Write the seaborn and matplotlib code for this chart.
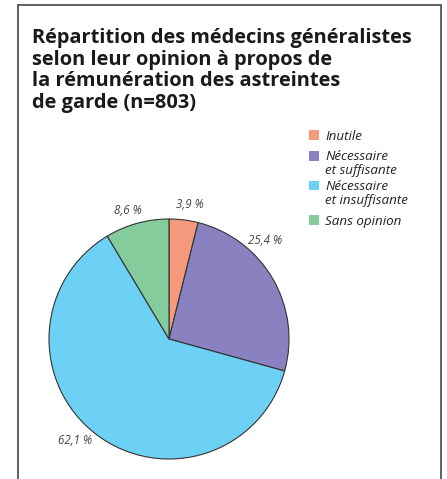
import matplotlib
matplotlib.use("Agg")
import matplotlib.pyplot as plt
import seaborn as sns
from matplotlib.patches import Rectangle
from matplotlib.lines import Line2D

sns.set_style("white")
plt.rcParams['font.family'] = ['Open Sans', 'DejaVu Sans']

categories = ["Inutile", "Nécessaire\net suffisante", "Nécessaire\net insuffisante", "Sans opinion"]
values = [3.9, 25.4, 62.1, 8.6]
value_labels = ["3,9 %", "25,4 %", "62,1 %", "8,6 %"]
colors = ["#F59A7C", "#8A81C0", "#6DD0F5", "#84CC9B"]
title_lines = ["Répartition des médecins généralistes", "selon leur opinion à propos de",
               "la rémunération des astreintes", "de garde (n=803)"]

W, H = 447, 479
fig = plt.figure(figsize=(W / 100, H / 100), dpi=100)

fx = lambda px: px / W
fy = lambda py: 1 - py / H
frame_kw = dict(color="#555555", lw=1.3, transform=fig.transFigure)
fig.add_artist(Line2D([fx(18), fx(18)], [fy(5), 0], **frame_kw))
fig.add_artist(Line2D([fx(18), fx(441)], [fy(5), fy(5)], **frame_kw))
fig.add_artist(Line2D([fx(441), fx(441)], [fy(5), 0], **frame_kw))

for i, line in enumerate(title_lines):
    fig.text(fx(32), fy(43 + 21.7 * i), line, fontsize=14.4, fontweight="bold",
             color="#1a1a1a", va="baseline", ha="left")

cx, cy, r = 169, 339, 120
ax = fig.add_axes([fx(cx - r), fy(cy + r), (2 * r) / W, (2 * r) / H])
wedges, _ = ax.pie(values, colors=colors, startangle=90, counterclock=False,
                   wedgeprops=dict(edgecolor="#333333", linewidth=0.8))
ax.set_xlim(-1, 1)
ax.set_ylim(-1, 1)
ax.set_aspect("auto")
ax.axis("off")

label_pos = [(190, 205), (265, 240), (75, 440), (128, 211)]
for (px, py), txt in zip(label_pos, value_labels):
    ax.text((px - cx) / r, (cy - py) / r, txt, ha="center", va="center",
            fontsize=8.3, style="italic", color="#444444")

# legend (manual layout)
sq = 9.5
square_tops = [130, 151, 181, 215]
for top, c, lab in zip(square_tops, colors, categories):
    fig.add_artist(Rectangle((fx(309), fy(top + sq)), sq / W, sq / H, facecolor=c,
                             edgecolor="none", transform=fig.transFigure))
    for j, part in enumerate(lab.split("\n")):
        fig.text(fx(325), fy(top + sq + 13.5 * j), part, fontsize=9.6, style="italic",
                 color="#222222", va="baseline", ha="left")

fig.savefig("out.png", dpi=100)
